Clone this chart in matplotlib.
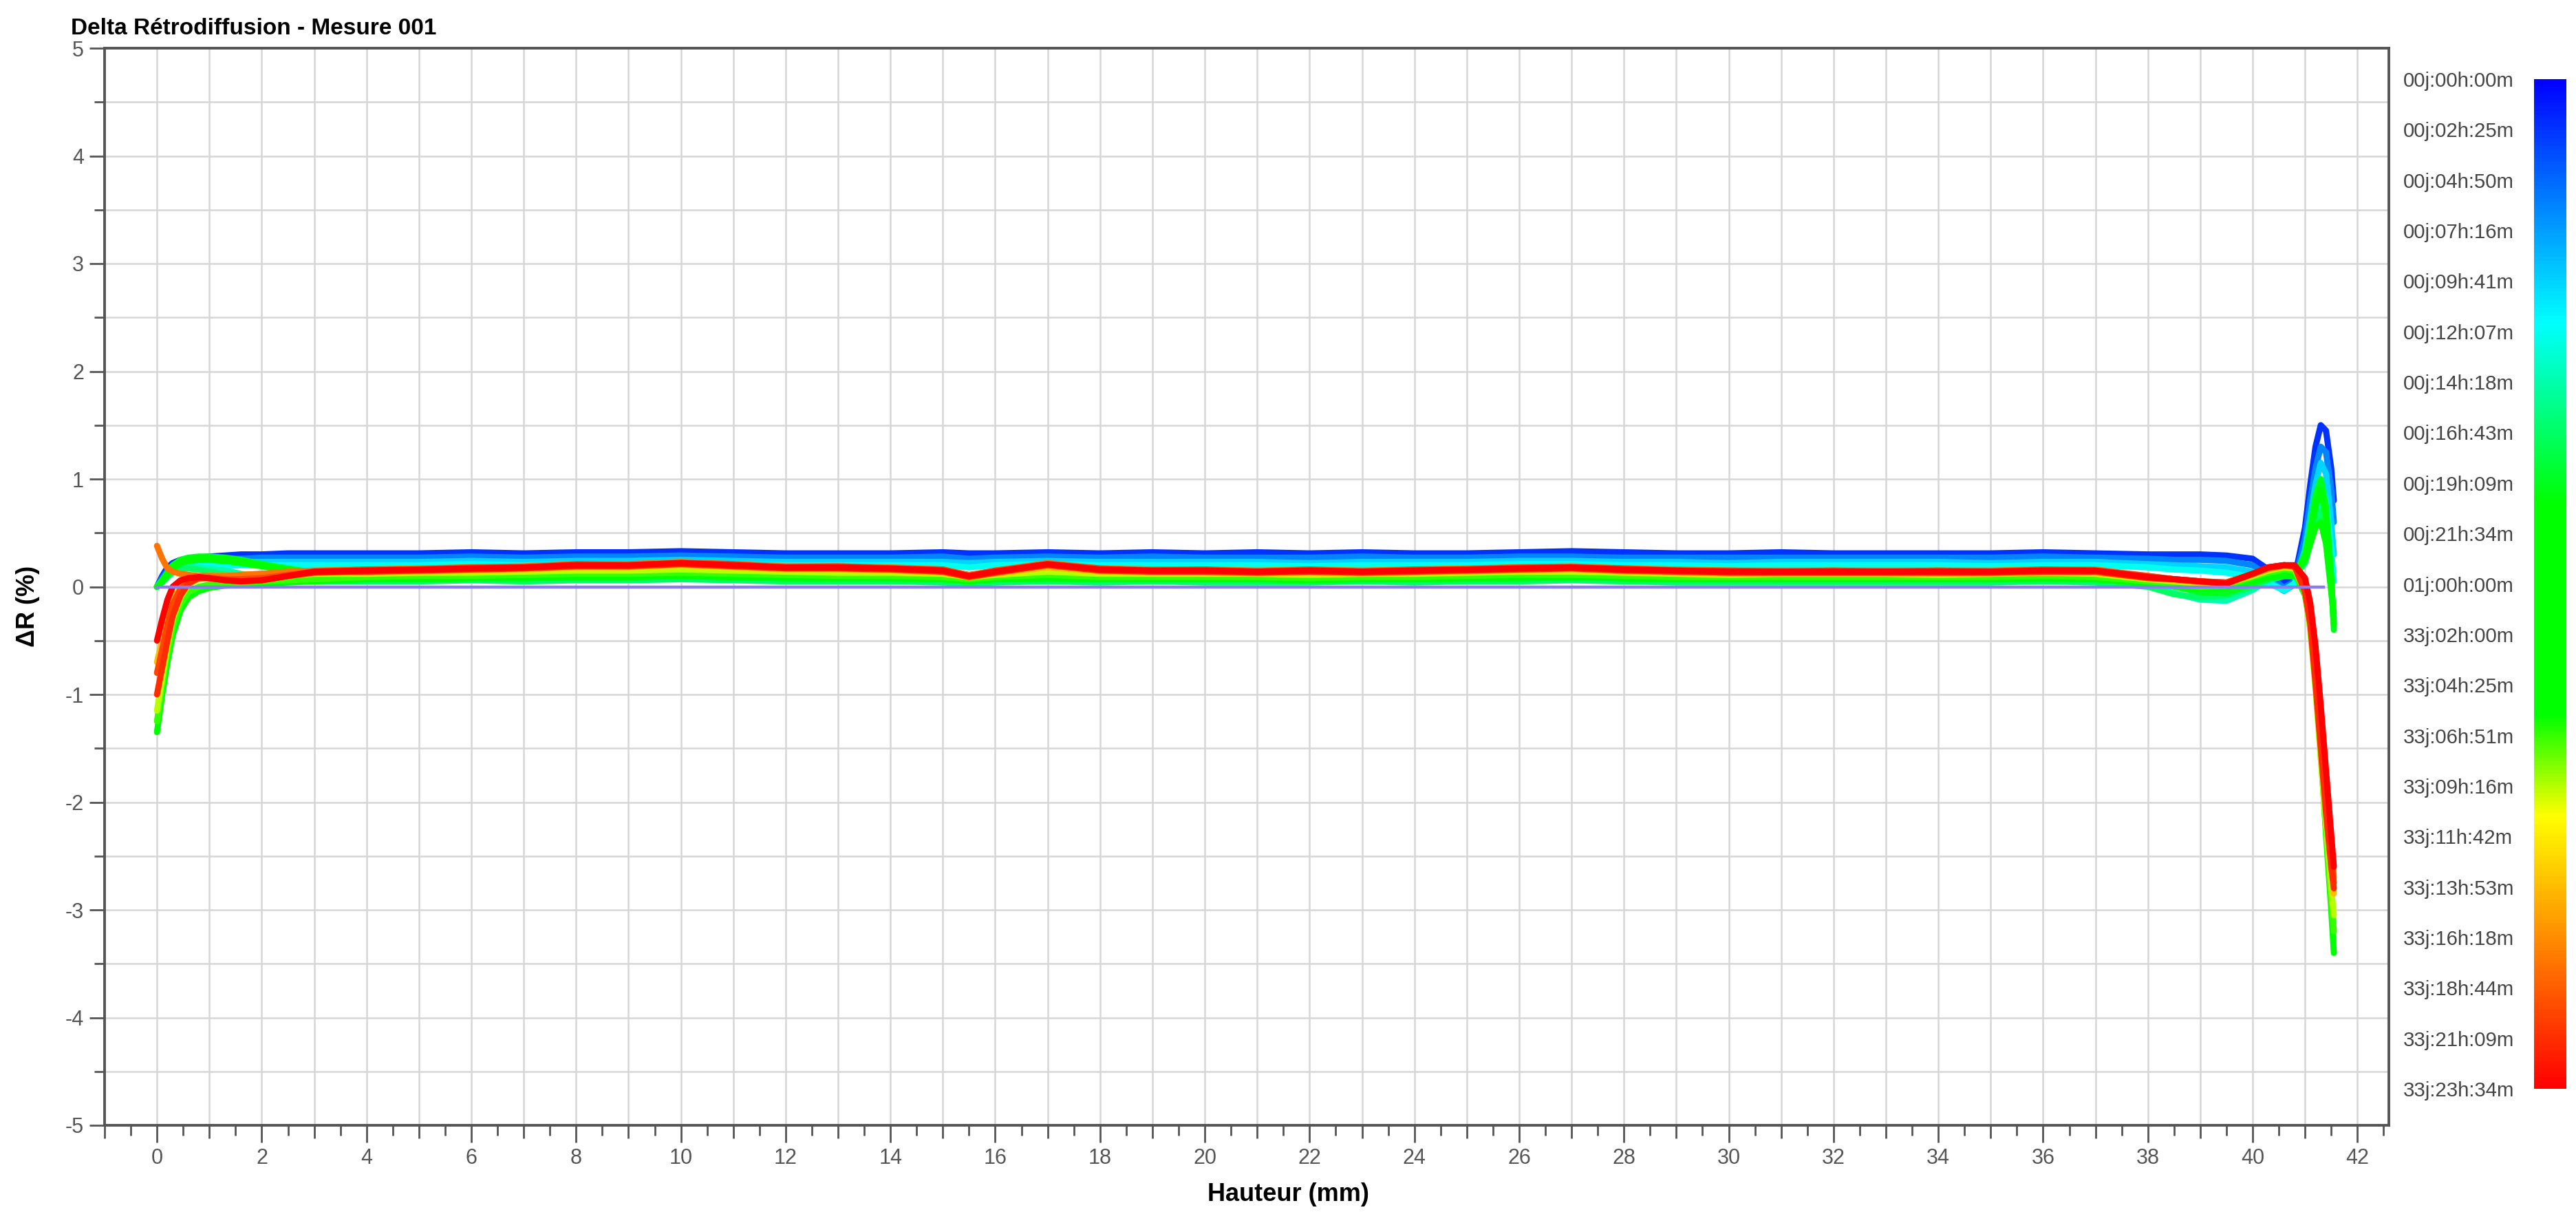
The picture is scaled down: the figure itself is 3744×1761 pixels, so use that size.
import numpy as np
import matplotlib
matplotlib.use('Agg')
import matplotlib.pyplot as plt
from matplotlib.colors import LinearSegmentedColormap, Normalize
from matplotlib.cm import ScalarMappable

# libellés de la barre de couleur (un par rang de mesure)
temps = ['00j:00h:00m', '00j:02h:25m', '00j:04h:50m', '00j:07h:16m', '00j:09h:41m',
         '00j:12h:07m', '00j:14h:18m', '00j:16h:43m', '00j:19h:09m', '00j:21h:34m',
         '01j:00h:00m', '33j:02h:00m', '33j:04h:25m', '33j:06h:51m', '33j:09h:16m',
         '33j:11h:42m', '33j:13h:53m', '33j:16h:18m', '33j:18h:44m', '33j:21h:09m',
         '33j:23h:34m']

# hauteur (mm) commune à toutes les courbes
hauteur = [0.0, 0.1, 0.2, 0.3, 0.45, 0.6, 0.8, 1.0, 1.3, 1.6, 2.0, 2.5, 3.0,
           4, 5, 6, 7, 8, 9, 10, 11, 12, 13, 14, 15, 15.5, 16, 17, 18, 19, 20, 21, 22,
           23, 24, 25, 26, 27, 28, 29, 30, 31, 32, 33, 34, 35, 36, 37, 38,
           38.5, 39.0, 39.5, 40.0, 40.3, 40.6, 40.8, 41.0, 41.1, 41.2, 41.3, 41.4, 41.5, 41.55]

# mesure de référence (00j:00h:00m)
ref_x = [0.0, 41.35]
ref_y = [0.0, 0.0]

# rang (position dans la barre de couleur) de chaque courbe tracée
rangs = [1, 2.5, 4, 5, 6, 7, 8, 9, 10, 12, 13, 14, 16, 17.5, 18.5, 19, 20]

dr_1 = ([0.00, 0.10, 0.18, 0.22, 0.25, 0.26, 0.27, 0.28, 0.29, 0.30, 0.30, 0.31, 0.31]
        + [0.31, 0.31, 0.32, 0.31, 0.32, 0.32, 0.33, 0.32, 0.31, 0.31, 0.31, 0.32, 0.31, 0.31, 0.32, 0.31, 0.32, 0.31,
           0.32, 0.31, 0.32, 0.31, 0.31, 0.32, 0.33, 0.32, 0.31, 0.31, 0.32, 0.31, 0.31, 0.31, 0.31, 0.32, 0.31, 0.30]
        + [0.30, 0.30, 0.29, 0.26, 0.16, 0.04, 0.08, 0.55, 0.95, 1.30, 1.50, 1.45, 1.10, 0.80])
dr_2 = ([0.00, 0.08, 0.15, 0.19, 0.22, 0.23, 0.24, 0.25, 0.26, 0.26, 0.27, 0.27, 0.27]
        + [0.27, 0.27, 0.28, 0.27, 0.28, 0.28, 0.29, 0.28, 0.27, 0.27, 0.27, 0.28, 0.26, 0.27, 0.28, 0.27, 0.28, 0.27,
           0.27, 0.27, 0.28, 0.27, 0.27, 0.28, 0.28, 0.27, 0.27, 0.27, 0.27, 0.27, 0.27, 0.27, 0.27, 0.28, 0.27, 0.26]
        + [0.25, 0.25, 0.24, 0.20, 0.10, -0.01, 0.05, 0.45, 0.80, 1.10, 1.30, 1.25, 0.90, 0.60])
dr_3 = ([0.00, 0.06, 0.12, 0.16, 0.19, 0.20, 0.21, 0.22, 0.22, 0.23, 0.23, 0.23, 0.23]
        + [0.23, 0.23, 0.24, 0.23, 0.24, 0.24, 0.25, 0.24, 0.23, 0.23, 0.23, 0.23, 0.22, 0.23, 0.24, 0.23, 0.23, 0.23,
           0.23, 0.22, 0.23, 0.23, 0.23, 0.24, 0.24, 0.23, 0.23, 0.22, 0.23, 0.23, 0.23, 0.23, 0.22, 0.23, 0.23, 0.21]
        + [0.20, 0.19, 0.18, 0.14, 0.05, -0.04, 0.02, 0.35, 0.65, 0.95, 1.15, 1.05, 0.60, 0.30])
dr_4 = ([0.00, 0.06, 0.11, 0.15, 0.17, 0.18, 0.19, 0.19, 0.19, 0.20, 0.20, 0.20, 0.20]
        + [0.20, 0.20, 0.21, 0.20, 0.21, 0.21, 0.22, 0.21, 0.20, 0.20, 0.20, 0.20, 0.18, 0.20, 0.21, 0.20, 0.20, 0.20,
           0.20, 0.19, 0.20, 0.20, 0.20, 0.21, 0.21, 0.20, 0.20, 0.19, 0.20, 0.20, 0.20, 0.20, 0.19, 0.20, 0.20, 0.18]
        + [0.16, 0.15, 0.13, 0.09, 0.03, -0.03, 0.03, 0.30, 0.55, 0.80, 0.95, 0.80, 0.35, 0.05])
dr_5 = ([0.00, 0.05, 0.10, 0.14, 0.17, 0.18, 0.18, 0.17, 0.15, 0.12, 0.09, 0.07, 0.06]
        + [0.06, 0.06, 0.07, 0.06, 0.07, 0.07, 0.08, 0.07, 0.06, 0.06, 0.06, 0.05, 0.04, 0.05, 0.06, 0.05, 0.06, 0.05,
           0.05, 0.05, 0.06, 0.05, 0.06, 0.06, 0.07, 0.06, 0.05, 0.05, 0.05, 0.05, 0.05, 0.05, 0.05, 0.06, 0.05, 0.01]
        + [-0.06, -0.12, -0.13, -0.03, 0.06, 0.10, 0.10, 0.25, 0.45, 0.65, 0.80, 0.55, 0.05, -0.30])
dr_6 = ([0.00, 0.04, 0.09, 0.13, 0.16, 0.17, 0.16, 0.14, 0.11, 0.09, 0.07, 0.06, 0.05]
        + [0.05, 0.05, 0.06, 0.05, 0.06, 0.06, 0.07, 0.06, 0.05, 0.05, 0.05, 0.04, 0.03, 0.04, 0.05, 0.04, 0.05, 0.04,
           0.04, 0.04, 0.05, 0.04, 0.05, 0.05, 0.06, 0.05, 0.04, 0.04, 0.04, 0.04, 0.04, 0.04, 0.04, 0.05, 0.04, 0.00]
        + [-0.07, -0.10, -0.08, 0.00, 0.07, 0.10, 0.10, 0.22, 0.40, 0.58, 0.70, 0.45, 0.00, -0.35])
dr_7 = ([0.00, 0.06, 0.13, 0.20, 0.25, 0.27, 0.28, 0.28, 0.27, 0.25, 0.21, 0.17, 0.13]
        + [0.10, 0.09, 0.10, 0.09, 0.10, 0.10, 0.11, 0.10, 0.09, 0.09, 0.09, 0.08, 0.06, 0.08, 0.09, 0.08, 0.09, 0.08,
           0.08, 0.08, 0.09, 0.08, 0.09, 0.09, 0.10, 0.09, 0.08, 0.08, 0.08, 0.08, 0.08, 0.08, 0.08, 0.09, 0.08, 0.04]
        + [0.00, -0.05, -0.06, 0.03, 0.08, 0.10, 0.10, 0.30, 0.55, 0.85, 1.00, 0.75, 0.10, -0.40])
dr_8 = ([0.00, 0.06, 0.13, 0.19, 0.24, 0.26, 0.27, 0.27, 0.26, 0.24, 0.20, 0.16, 0.12]
        + [0.09, 0.08, 0.09, 0.08, 0.09, 0.09, 0.10, 0.09, 0.08, 0.08, 0.08, 0.07, 0.05, 0.07, 0.08, 0.07, 0.08, 0.07,
           0.07, 0.07, 0.08, 0.07, 0.08, 0.08, 0.09, 0.08, 0.07, 0.07, 0.07, 0.07, 0.07, 0.07, 0.07, 0.08, 0.07, 0.03]
        + [0.01, -0.02, -0.01, 0.05, 0.09, 0.11, 0.11, 0.28, 0.50, 0.75, 0.90, 0.65, 0.05, -0.35])
dr_9 = ([0.00, 0.05, 0.11, 0.17, 0.22, 0.24, 0.25, 0.25, 0.24, 0.22, 0.19, 0.15, 0.12]
        + [0.11, 0.11, 0.12, 0.11, 0.12, 0.12, 0.13, 0.12, 0.11, 0.11, 0.11, 0.10, 0.08, 0.10, 0.11, 0.10, 0.11, 0.10,
           0.10, 0.10, 0.11, 0.10, 0.11, 0.11, 0.12, 0.11, 0.10, 0.10, 0.10, 0.10, 0.10, 0.10, 0.10, 0.11, 0.10, 0.06]
        + [0.03, 0.00, 0.02, 0.07, 0.10, 0.12, 0.12, 0.25, 0.40, 0.55, 0.60, 0.40, -0.05, -0.25])
dr_10 = ([-1.35, -1.00, -0.70, -0.45, -0.22, -0.10, -0.04, -0.01, 0.01, 0.02, 0.03, 0.04, 0.05]
         + [0.07, 0.07, 0.08, 0.08, 0.09, 0.09, 0.10, 0.09, 0.08, 0.08, 0.08, 0.07, 0.05, 0.07, 0.08, 0.07, 0.07, 0.07,
            0.07, 0.06, 0.07, 0.07, 0.08, 0.08, 0.09, 0.08, 0.07, 0.07, 0.07, 0.07, 0.07, 0.07, 0.07, 0.08, 0.07, 0.03]
         + [0.01, -0.02, 0.00, 0.08, 0.12, 0.15, 0.13, -0.08, -0.35, -0.80, -1.50, -2.30, -3.00, -3.40])
dr_11 = ([-1.25, -0.92, -0.62, -0.38, -0.16, -0.05, 0.00, 0.02, 0.03, 0.04, 0.05, 0.06, 0.07]
         + [0.09, 0.10, 0.10, 0.11, 0.12, 0.12, 0.13, 0.12, 0.11, 0.10, 0.10, 0.09, 0.07, 0.09, 0.11, 0.09, 0.09, 0.09,
            0.09, 0.08, 0.09, 0.09, 0.10, 0.11, 0.11, 0.10, 0.09, 0.09, 0.09, 0.09, 0.09, 0.09, 0.09, 0.10, 0.09, 0.05]
         + [0.03, 0.00, 0.01, 0.09, 0.13, 0.16, 0.15, -0.06, -0.38, -0.88, -1.55, -2.25, -2.90, -3.20])
dr_12 = ([-1.15, -0.85, -0.55, -0.30, -0.10, 0.02, 0.07, 0.09, 0.10, 0.10, 0.10, 0.11, 0.12]
         + [0.12, 0.13, 0.13, 0.14, 0.15, 0.15, 0.16, 0.15, 0.14, 0.13, 0.13, 0.12, 0.09, 0.11, 0.14, 0.12, 0.12, 0.12,
            0.12, 0.11, 0.12, 0.12, 0.13, 0.14, 0.14, 0.13, 0.12, 0.11, 0.12, 0.12, 0.12, 0.11, 0.12, 0.13, 0.12, 0.07]
         + [0.05, 0.03, 0.03, 0.10, 0.15, 0.18, 0.17, -0.05, -0.40, -0.95, -1.60, -2.20, -2.80, -3.05])
dr_13 = ([-0.70, -0.50, -0.30, -0.12, 0.00, 0.06, 0.09, 0.10, 0.10, 0.11, 0.12, 0.13, 0.14]
         + [0.13, 0.14, 0.15, 0.16, 0.18, 0.18, 0.20, 0.18, 0.16, 0.16, 0.15, 0.13, 0.09, 0.12, 0.18, 0.14, 0.13, 0.13,
            0.12, 0.13, 0.12, 0.13, 0.14, 0.15, 0.16, 0.14, 0.13, 0.12, 0.12, 0.12, 0.12, 0.12, 0.12, 0.13, 0.13, 0.08]
         + [0.06, 0.04, 0.03, 0.11, 0.16, 0.19, 0.18, 0.00, -0.30, -0.75, -1.35, -1.95, -2.55, -2.85])
dr_14 = ([0.38, 0.26, 0.17, 0.14, 0.12, 0.11, 0.10, 0.10, 0.10, 0.11, 0.12, 0.14, 0.15]
         + [0.16, 0.17, 0.18, 0.19, 0.21, 0.21, 0.23, 0.21, 0.19, 0.19, 0.18, 0.16, 0.11, 0.15, 0.22, 0.17, 0.16, 0.16,
            0.15, 0.16, 0.15, 0.16, 0.17, 0.18, 0.19, 0.17, 0.16, 0.15, 0.15, 0.15, 0.15, 0.15, 0.15, 0.16, 0.16, 0.10]
         + [0.07, 0.05, 0.04, 0.12, 0.17, 0.20, 0.19, 0.02, -0.25, -0.65, -1.20, -1.80, -2.40, -2.70])
dr_15 = ([-0.80, -0.58, -0.36, -0.16, -0.02, 0.05, 0.08, 0.08, 0.07, 0.07, 0.08, 0.11, 0.14]
         + [0.16, 0.16, 0.18, 0.18, 0.21, 0.20, 0.22, 0.21, 0.18, 0.19, 0.17, 0.16, 0.10, 0.15, 0.21, 0.17, 0.15, 0.16,
            0.14, 0.16, 0.14, 0.16, 0.16, 0.18, 0.18, 0.17, 0.15, 0.15, 0.14, 0.15, 0.14, 0.15, 0.14, 0.16, 0.15, 0.10]
         + [0.07, 0.05, 0.04, 0.12, 0.18, 0.20, 0.19, 0.00, -0.28, -0.75, -1.35, -1.95, -2.50, -2.75])
dr_16 = ([-1.00, -0.75, -0.50, -0.27, -0.08, 0.03, 0.08, 0.08, 0.06, 0.05, 0.06, 0.10, 0.13]
         + [0.14, 0.15, 0.16, 0.17, 0.19, 0.19, 0.21, 0.19, 0.17, 0.17, 0.16, 0.14, 0.09, 0.13, 0.20, 0.15, 0.14, 0.14,
            0.13, 0.14, 0.13, 0.14, 0.15, 0.16, 0.17, 0.15, 0.14, 0.13, 0.13, 0.13, 0.13, 0.13, 0.13, 0.14, 0.14, 0.08]
         + [0.07, 0.05, 0.03, 0.12, 0.18, 0.20, 0.19, -0.05, -0.35, -0.90, -1.50, -2.10, -2.60, -2.80])
dr_17 = ([-0.50, -0.30, -0.12, 0.00, 0.06, 0.08, 0.09, 0.08, 0.06, 0.05, 0.06, 0.10, 0.14]
         + [0.15, 0.16, 0.17, 0.18, 0.20, 0.20, 0.22, 0.20, 0.18, 0.18, 0.17, 0.15, 0.10, 0.14, 0.21, 0.16, 0.15, 0.15,
            0.14, 0.15, 0.14, 0.15, 0.16, 0.17, 0.18, 0.16, 0.15, 0.14, 0.14, 0.14, 0.14, 0.14, 0.14, 0.15, 0.15, 0.09]
         + [0.07, 0.05, 0.03, 0.12, 0.18, 0.20, 0.20, 0.08, -0.15, -0.55, -1.10, -1.70, -2.30, -2.60])

courbes = [dr_1, dr_2, dr_3, dr_4, dr_5, dr_6, dr_7, dr_8, dr_9, dr_10, dr_11, dr_12,
           dr_13, dr_14, dr_15, dr_16, dr_17]

plt.rcParams['font.family'] = ['Liberation Sans', 'DejaVu Sans']
plt.rcParams['axes.unicode_minus'] = False

W, H = 3744, 1761
fig = plt.figure(figsize=(W / 200, H / 200), dpi=200)
ax = fig.add_axes([152 / W, 1 - 1635 / H, (3472 - 152) / W, (1635 - 70) / H])

cmap = LinearSegmentedColormap.from_list('turbiscan', [
    (0.0, '#0000ff'), (0.24, '#00ffff'), (0.42, '#00ff00'),
    (0.63, '#00ff00'), (0.73, '#ffff00'), (1.0, '#ff0000')])
norm = Normalize(0, len(temps) - 1)

for rang, dr in zip(rangs, courbes):
    ax.plot(hauteur, dr, color=cmap(norm(rang)), lw=3.2, solid_joinstyle='round',
            solid_capstyle='round', zorder=3)
# la référence reste visible par-dessus le faisceau
ax.plot(ref_x, ref_y, color='#8a7cf5', lw=1.6, zorder=4)

ax.set_xlim(-1, 42.6)
ax.set_ylim(-5, 5)

xt = np.arange(-1, 43)
ax.set_xticks(xt)
ax.set_xticklabels([str(v) if v % 2 == 0 else '' for v in xt])
ax.set_xticks(np.arange(-0.5, 43, 1), minor=True)
ax.set_yticks(np.arange(-5, 6))
ax.set_yticks(np.arange(-4.5, 5, 1), minor=True)

ax.set_axisbelow(True)
ax.grid(which='major', axis='x', color='#d6d6d6', lw=0.9)
ax.grid(which='both', axis='y', color='#d6d6d6', lw=0.9)

ax.tick_params(which='major', axis='x', length=9, width=1.0, color='#555555',
               labelsize=11, labelcolor='#555555', pad=2.9)
ax.tick_params(which='major', axis='y', length=7.9, width=1.0, color='#555555',
               labelsize=11, labelcolor='#555555', pad=2.9)
ax.tick_params(which='minor', length=5.4, width=1.0, color='#555555')
for tick, v in zip(ax.xaxis.get_major_ticks(), xt):
    if v % 2:
        tick.tick1line.set_markersize(6.8)

for s in ax.spines.values():
    s.set_color('#555555')
    s.set_linewidth(1.4)

fig.text(103 / W, 1 - 50 / H, 'Delta Rétrodiffusion - Mesure 001', fontsize=12,
         fontweight='bold', va='baseline', ha='left')
fig.text(0.5, 1 - 1745 / H, 'Hauteur (mm)', fontsize=13, fontweight='bold',
         va='baseline', ha='center')
fig.text(40 / W, 0.5, 'ΔR (%)', fontsize=13, fontweight='bold', rotation=90,
         va='center', ha='center')

# barre de couleur
cax = fig.add_axes([3683 / W, 1 - 1582 / H, (3730 - 3683) / W, (1582 - 115) / H])
cb = fig.colorbar(ScalarMappable(norm=norm, cmap=cmap), cax=cax)
cb.outline.set_visible(False)
cax.invert_yaxis()
cb.set_ticks(np.arange(len(temps)))
cb.set_ticklabels(temps)
cax.yaxis.set_ticks_position('left')
cax.tick_params(length=0, pad=68.4, labelsize=10.6, labelcolor='#444444')
for lab in cax.get_yticklabels():
    lab.set_ha('left')

fig.savefig('out.png', dpi=200)
